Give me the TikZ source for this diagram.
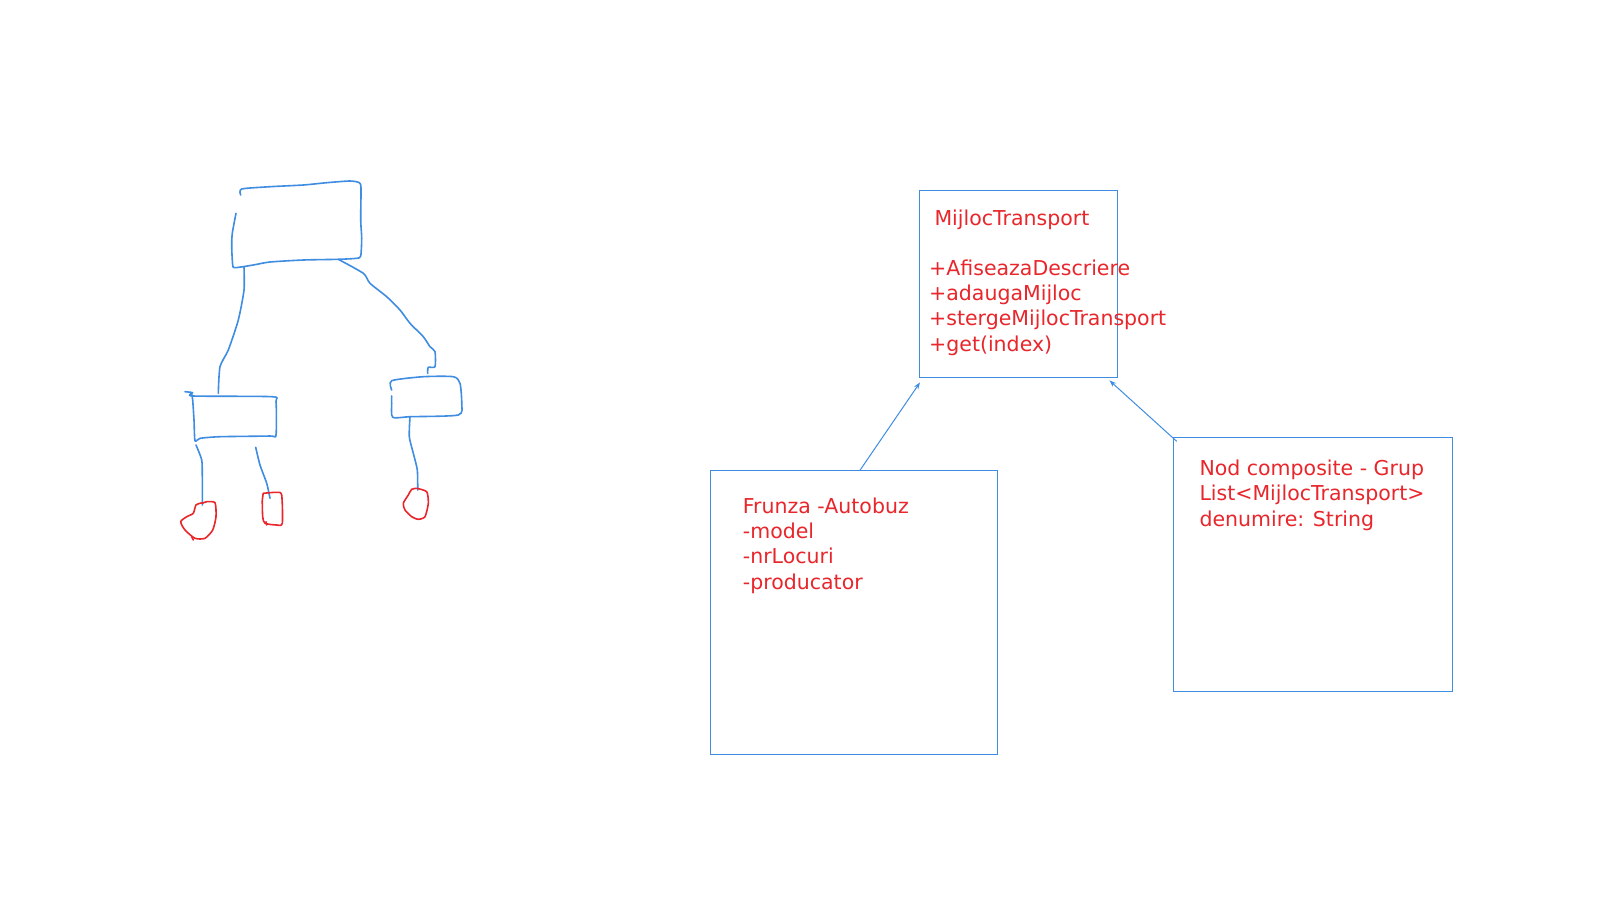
\documentclass[tikz,border=0pt]{standalone}
\usepackage{fontspec}
\setmainfont{DejaVu Sans}
\usetikzlibrary{arrows.meta, positioning}
\definecolor{mBlue}{HTML}{3F8DE2}
\definecolor{mRed}{HTML}{E8262B}

\begin{document}
\begin{tikzpicture}[x=1pt, y=-1pt,
    umlbox/.style={draw=mBlue, line width=1.1pt, inner sep=0pt, anchor=north west},
    txt/.style={text=mRed, inner sep=0pt, anchor=base west, align=left,
      font=\fontsize{20.5}{25.3}\selectfont},
    arr/.style={draw=mBlue, line width=1pt, -{Stealth[length=7pt, width=5pt]}},
    sketch/.style={draw=mBlue, line width=1.6pt, line cap=round, line join=round},
    leaf/.style={draw=mRed, line width=1.6pt, line cap=round, line join=round}]
    \useasboundingbox[fill=white] (0,0) rectangle (1600,900);

    % hand drawn tree
    \draw[sketch] plot[smooth, tension=0.4] coordinates {(240.7,195) (241.7,189) (270,186.7) (303.3,185) (326.7,182.7) (350,181) (359.3,182.7) (361,188.3) (360.7,220) (361.7,238.3) (360.7,256) (356.7,258.3) (338.3,259.3) (303.3,260) (270,262) (253.3,265) (235,267.7) (232.7,265) (231.7,246.7) (232.3,233.3) (236,213.3)};
    \draw[sketch] plot[smooth, tension=0.4] coordinates {(244,267.3) (244,290) (238.3,320) (228.3,350) (220,366.7) (218.3,393.3)};
    \draw[sketch] plot[smooth, tension=0.4] coordinates {(338.3,259.3) (363.3,273.3) (370,283.3) (386.7,296.7) (400,310) (410,323.3) (423.3,336.7) (430,346.7) (435,351.7) (435,366.7) (428.3,367.3) (427.7,373.3)};
    \draw[sketch] plot[smooth, tension=0.4] coordinates {(185,391.7) (192.7,392.7) (193.3,396) (271.7,396.7) (276,401.7) (276,435) (270,436) (220,436.7) (200,438.3) (195,440.7) (194,420) (192.7,400) (191.7,394)};
    \draw[sketch] plot[smooth, tension=0.4] coordinates {(391.7,390) (391.7,380.7) (423.3,376.7) (453.3,376.7) (460,383.3) (461.7,403.3) (458.3,415) (410,416.7) (392.7,417.3) (391.7,403.3) (391.7,396)};
    \draw[sketch] plot[smooth, tension=0.4] coordinates {(410,416.7) (409.3,436.7) (413.3,453.3) (417.3,470) (417.7,490)};
    \draw[sketch] plot[smooth, tension=0.4] coordinates {(196,445) (201.7,460) (202.3,476.7) (202.3,505)};
    \draw[sketch] plot[smooth, tension=0.4] coordinates {(255.7,447.3) (260,465) (266.7,483.3) (270,498.3)};

    % leaves
    \draw[leaf] plot[smooth, tension=0.4] coordinates {(202.3,503.3) (206.7,501.7) (215,502.7) (216,516.7) (212.7,530) (205,538.3) (195,538.3) (185,530) (180.7,521.7) (186.7,516.7) (193.3,513.3) (196,505) (202.3,502.7)};
    \draw[leaf] (191.7,536.7) -- (193.3,540);
    \draw[leaf] plot[smooth, tension=0.4] coordinates {(263.3,493.3) (276.7,492.3) (281.7,495) (282.3,523.3) (276.7,525) (265,523.3) (262.7,516.7) (262.3,500) (263.3,493.3)};
    \draw[leaf] (266,521.7) -- (266.7,525);
    \draw[leaf] plot[smooth, tension=0.4] coordinates {(416.7,488.3) (426.7,491.7) (428.3,503.3) (425,516.7) (418.3,519.3) (411.7,516.7) (405,510) (403.3,503.3) (408.3,495) (411.7,489.3) (416.7,488.3)};

    % class boxes
    \node[umlbox, minimum width=197.7pt, minimum height=187pt] (mijloc) at (919,190.3) {};
    \node[umlbox, minimum width=287pt, minimum height=283.7pt] (frunza) at (710.3,470.3) {};
    \node[umlbox, minimum width=279pt, minimum height=253.7pt] (grup) at (1173.3,437.3) {};

    % multi-line texts sit on their last baseline
    \node[txt] (mijlocTitle) at (934.3,225) {MijlocTransport};
    \node[txt] (mijlocOps) at (929,351.2) {+AfiseazaDescriere\\+adaugaMijloc\\+stergeMijlocTransport\\+get(index)};
    \node[txt] (frunzaTxt) at (742.7,589) {Frunza -Autobuz\\-model\\-nrLocuri\\-producator};
    \node[txt] (grupTxt) at (1199.3,526) {Nod composite - Grup\\List<MijlocTransport>\\denumire: String};

    \draw[arr] ([xshift=5.6pt]frunza.north) -- ([xshift=1pt, yshift=-4pt]mijloc.south west);
    \draw[arr] ([xshift=3.4pt, yshift=-4pt]grup.north west) -- ([xshift=-8.4pt, yshift=-2pt]mijloc.south east);
\end{tikzpicture}
\end{document}
